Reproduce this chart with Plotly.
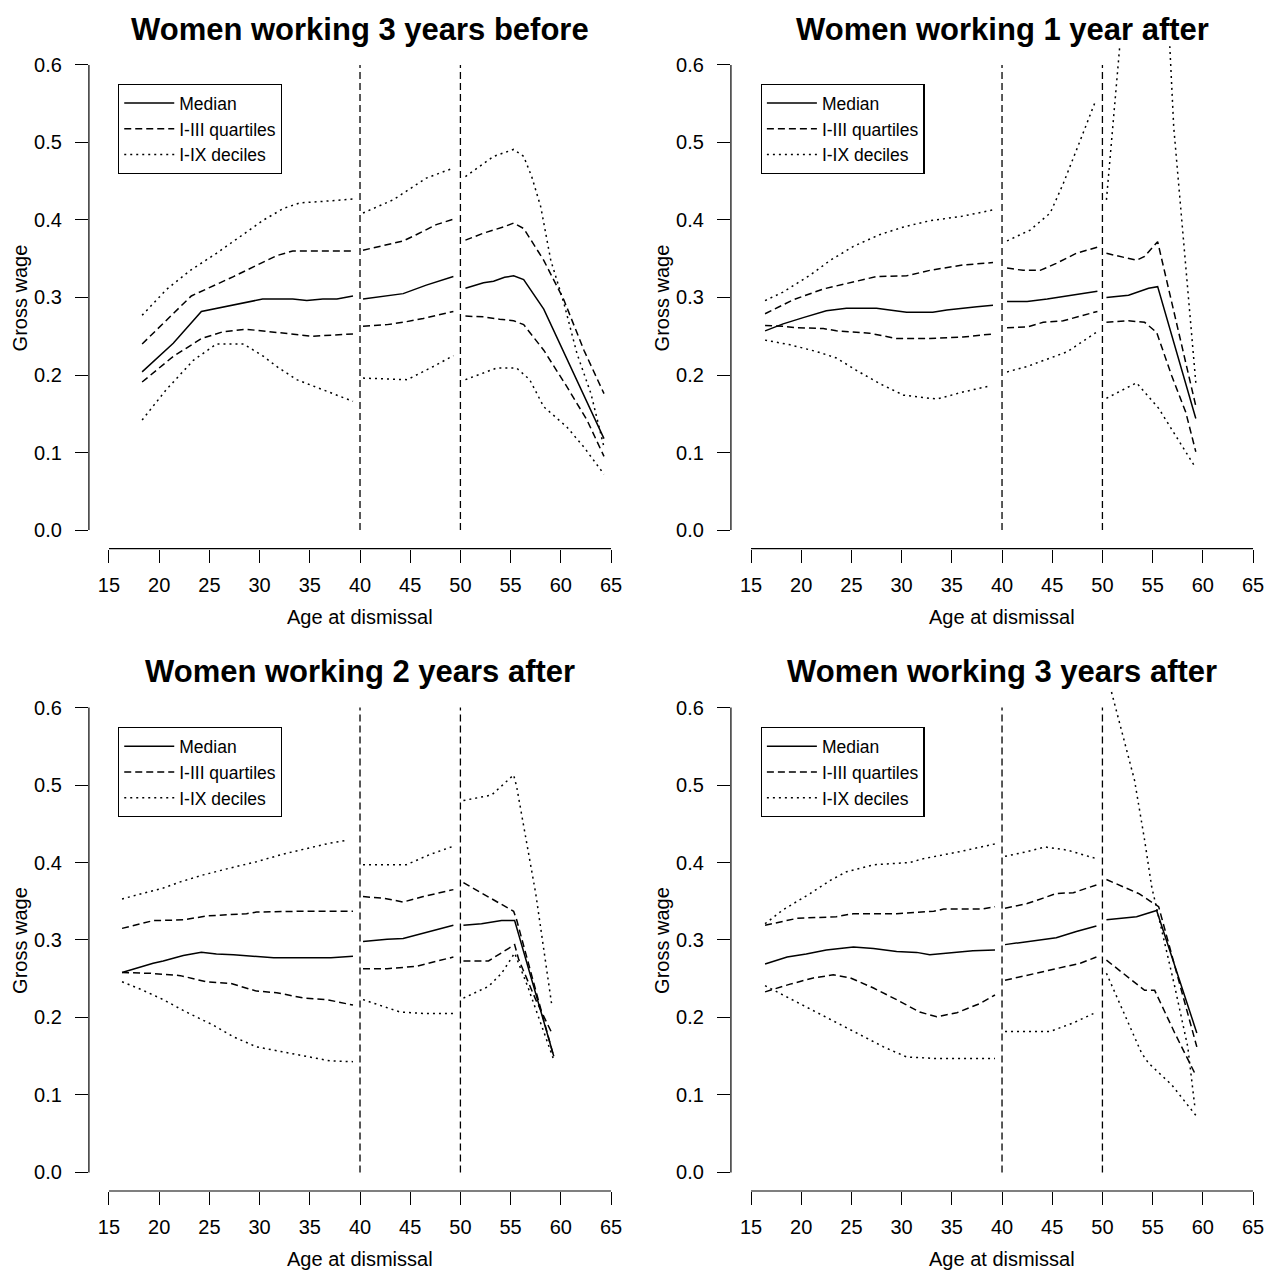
import plotly.graph_objects as go

# ---------------- data ----------------
titles = ["Women working 3 years before", "Women working 1 year after",
          "Women working 2 years after", "Women working 3 years after"]
legend_names = ["Median", "I-III quartiles", "I-IX deciles"]
x_label = "Age at dismissal"
y_label = "Gross wage"
cut_ages = [40, 50]
x_ticks = [15, 20, 25, 30, 35, 40, 45, 50, 55, 60, 65]
y_ticks = [0.0, 0.1, 0.2, 0.3, 0.4, 0.5, 0.6]

# Panel 1: Women working 3 years before
p1_med_age = [18.3, 21.4, 24.2, 26.4, 28.3, 30.3, 33.3, 34.7, 36.3, 37.7, 39.3, None,
              40.3, 44.3, 46.6, 49.3, None,
              50.5, 52.3, 53.3, 54.4, 55.3, 56.3, 58.3, 61.3, 64.3]
p1_med = [0.204, 0.241, 0.282, 0.288, 0.293, 0.298, 0.298, 0.296, 0.298, 0.298, 0.302, None,
          0.298, 0.305, 0.316, 0.327, None,
          0.312, 0.319, 0.321, 0.326, 0.328, 0.323, 0.285, 0.202, 0.118]
p1_q3_age = [18.3, 23.2, 27.4, 30.3, 31.7, 33.3, 39.3, None,
             40.3, 44.3, 45.6, 47.6, 49.3, None,
             50.5, 52.3, 54.3, 55.3, 56.3, 58.3, 60.3, 62.3, 64.3]
p1_q3 = [0.24, 0.302, 0.327, 0.345, 0.354, 0.36, 0.36, None,
         0.361, 0.373, 0.381, 0.394, 0.401, None,
         0.374, 0.383, 0.391, 0.396, 0.389, 0.348, 0.297, 0.232, 0.176]
p1_q1_age = [18.3, 21.4, 24.2, 26.4, 28.7, 30.7, 32.0, 33.7, 35.3, 39.3, None,
             40.3, 42.7, 44.3, 46.3, 49.3, None,
             50.5, 52.3, 53.9, 55.3, 56.3, 58.3, 60.6, 62.6, 64.3]
p1_q1 = [0.191, 0.224, 0.247, 0.256, 0.259, 0.256, 0.254, 0.252, 0.25, 0.253, None,
         0.263, 0.265, 0.268, 0.273, 0.282, None,
         0.276, 0.275, 0.272, 0.27, 0.265, 0.232, 0.185, 0.142, 0.095]
p1_d9_age = [18.3, 20.7, 23.1, 25.7, 28.0, 30.4, 32.4, 34.0, 36.3, 39.3, None,
             40.3, 43.3, 46.6, 49.3, None,
             50.5, 53.3, 55.3, 56.3, 57.1, 58.0, 59.0, 60.3, 61.6, 63.0, 64.3]
p1_d9 = [0.277, 0.31, 0.335, 0.357, 0.378, 0.4, 0.415, 0.422, 0.424, 0.427, None,
         0.409, 0.426, 0.454, 0.467, None,
         0.456, 0.482, 0.491, 0.482, 0.456, 0.417, 0.348, 0.293, 0.228, 0.176, 0.107]
p1_d1_age = [18.3, 20.7, 23.4, 25.7, 28.4, 30.4, 31.7, 33.7, 36.3, 39.3, None,
             40.3, 44.7, 47.3, 49.3, None,
             50.5, 53.6, 55.6, 56.9, 58.3, 60.6, 62.3, 63.8, 64.3]
p1_d1 = [0.142, 0.181, 0.219, 0.24, 0.24, 0.224, 0.211, 0.194, 0.181, 0.166, None,
         0.196, 0.194, 0.211, 0.225, None,
         0.194, 0.209, 0.209, 0.194, 0.159, 0.133, 0.107, 0.08, 0.072]

# Panel 2: Women working 1 year after
p2_med_age = [16.4, 18.2, 20.2, 22.5, 24.5, 27.5, 28.8, 30.5, 33.1, 34.5, 37.5, 39.1, None,
              40.5, 42.5, 44.5, 47.1, 49.5, None,
              50.4, 52.6, 54.6, 55.5, 59.3]
p2_med = [0.257, 0.266, 0.274, 0.283, 0.286, 0.286, 0.284, 0.281, 0.281, 0.284, 0.288, 0.29, None,
          0.295, 0.295, 0.298, 0.303, 0.308, None,
          0.3, 0.303, 0.312, 0.314, 0.144]
p2_q3_age = [16.4, 19.2, 22.2, 24.9, 27.5, 30.5, 32.8, 36.1, 39.1, None,
             40.5, 42.1, 43.8, 45.4, 47.4, 49.5, None,
             50.4, 53.4, 54.2, 55.5, 59.3]
p2_q3 = [0.279, 0.297, 0.311, 0.319, 0.327, 0.328, 0.335, 0.342, 0.345, None,
         0.338, 0.335, 0.335, 0.344, 0.357, 0.365, None,
         0.357, 0.348, 0.353, 0.372, 0.16]
p2_q1_age = [16.4, 18.2, 19.5, 22.2, 23.5, 26.8, 29.5, 32.8, 36.1, 39.1, None,
             40.5, 42.5, 44.1, 46.1, 49.5, None,
             50.4, 52.6, 54.2, 55.4, 56.9, 58.3, 59.3]
p2_q1 = [0.264, 0.263, 0.261, 0.26, 0.257, 0.254, 0.247, 0.247, 0.249, 0.253, None,
         0.261, 0.262, 0.268, 0.27, 0.282, None,
         0.268, 0.27, 0.268, 0.255, 0.199, 0.152, 0.101]
p2_d9_age = [16.4, 18.2, 20.9, 22.9, 25.2, 27.8, 30.2, 32.8, 36.1, 39.1, None,
             40.5, 42.8, 44.8, 46.1, 47.8, 49.3, None,
             50.4, 50.9, 52.5, 55.5, 56.5, 57.1, 58.2, 59.3]
p2_d9 = [0.296, 0.307, 0.329, 0.348, 0.366, 0.381, 0.391, 0.399, 0.405, 0.413, None,
         0.373, 0.387, 0.409, 0.447, 0.503, 0.553, None,
         0.426, 0.507, 0.74, 0.85, 0.68, 0.52, 0.36, 0.19]
p2_d1_age = [16.4, 18.9, 21.6, 23.5, 25.5, 27.8, 30.2, 33.5, 36.1, 38.8, None,
             40.5, 42.5, 46.5, 49.5, None,
             50.4, 53.4, 55.6, 57.3, 59.3]
p2_d1 = [0.245, 0.239, 0.23, 0.222, 0.206, 0.189, 0.174, 0.169, 0.178, 0.186, None,
         0.204, 0.211, 0.23, 0.256, None,
         0.17, 0.19, 0.157, 0.122, 0.08]

# Panel 3: Women working 2 years after
p3_med_age = [16.3, 17.8, 19.4, 20.4, 22.4, 24.2, 25.7, 27.4, 29.4, 31.4, 37.1, 39.3, None,
              40.3, 42.7, 44.3, 46.3, 47.6, 49.3, None,
              50.3, 52.1, 54.1, 55.4, 59.3]
p3_med = [0.258, 0.264, 0.27, 0.273, 0.28, 0.284, 0.282, 0.281, 0.279, 0.277, 0.277, 0.279, None,
          0.298, 0.301, 0.302, 0.309, 0.313, 0.319, None,
          0.319, 0.321, 0.325, 0.325, 0.15]
p3_q3_age = [16.3, 19.4, 22.4, 24.7, 28.7, 29.7, 33.7, 39.3, None,
             40.3, 42.3, 44.3, 46.3, 49.3, None,
             50.3, 54.4, 55.3, 55.6, 59.3]
p3_q3 = [0.315, 0.325, 0.326, 0.331, 0.334, 0.336, 0.337, 0.337, None,
         0.356, 0.354, 0.349, 0.356, 0.365, None,
         0.374, 0.343, 0.337, 0.326, 0.149]
p3_q1_age = [16.3, 19.1, 22.1, 24.7, 27.1, 29.7, 31.7, 34.4, 36.7, 39.3, None,
             40.3, 42.7, 45.6, 49.3, None,
             50.3, 52.8, 55.4, 55.8, 57.5, 59.1]
p3_q1 = [0.258, 0.257, 0.254, 0.246, 0.244, 0.234, 0.232, 0.225, 0.223, 0.216, None,
         0.263, 0.263, 0.266, 0.278, None,
         0.273, 0.273, 0.294, 0.275, 0.223, 0.18]
p3_d9_age = [16.3, 18.4, 20.4, 22.1, 24.4, 27.1, 29.7, 32.4, 34.7, 37.0, 38.8, None,
             40.3, 44.6, 46.9, 49.3, None,
             50.3, 53.1, 55.3, 55.6, 57.5, 59.1]
p3_d9 = [0.353, 0.36, 0.367, 0.375, 0.384, 0.393, 0.401, 0.411, 0.418, 0.425, 0.429, None,
         0.397, 0.397, 0.41, 0.421, None,
         0.48, 0.487, 0.513, 0.498, 0.36, 0.216]
p3_d1_age = [16.3, 18.4, 20.4, 22.7, 25.4, 27.4, 29.7, 32.4, 35.0, 37.0, 39.3, None,
             40.3, 44.0, 46.6, 49.3, None,
             50.3, 52.8, 54.1, 55.4, 56.7, 59.3]
p3_d1 = [0.246, 0.235, 0.223, 0.207, 0.19, 0.175, 0.162, 0.155, 0.149, 0.144, 0.143, None,
         0.223, 0.207, 0.205, 0.205, None,
         0.225, 0.24, 0.257, 0.283, 0.24, 0.145]

# Panel 4: Women working 3 years after
p4_med_age = [16.4, 18.6, 20.5, 22.5, 25.2, 27.2, 29.5, 31.5, 32.8, 34.5, 37.1, 39.3, None,
              40.3, 42.8, 45.4, 47.4, 49.4, None,
              50.4, 53.4, 55.4, 59.4]
p4_med = [0.269, 0.278, 0.282, 0.287, 0.291, 0.289, 0.285, 0.284, 0.281, 0.283, 0.286, 0.287, None,
          0.294, 0.298, 0.303, 0.311, 0.318, None,
          0.326, 0.33, 0.338, 0.18]
p4_q3_age = [16.4, 19.6, 23.5, 25.2, 29.5, 33.2, 34.2, 38.1, 39.3, None,
             40.3, 42.5, 44.1, 45.4, 47.1, 49.4, None,
             50.4, 53.6, 55.6, 59.4]
p4_q3 = [0.319, 0.328, 0.33, 0.334, 0.334, 0.337, 0.34, 0.34, 0.343, None,
         0.341, 0.347, 0.354, 0.36, 0.361, 0.371, None,
         0.378, 0.36, 0.343, 0.162]
p4_q1_age = [16.4, 18.9, 21.2, 23.2, 24.9, 27.2, 29.5, 31.8, 33.5, 35.5, 37.8, 39.3, None,
             40.3, 42.8, 45.4, 47.8, 49.4, None,
             50.4, 53.2, 54.2, 55.2, 57.2, 59.2]
p4_q1 = [0.233, 0.243, 0.251, 0.255, 0.251, 0.238, 0.223, 0.207, 0.201, 0.206, 0.218, 0.229, None,
         0.248, 0.255, 0.263, 0.27, 0.278, None,
         0.274, 0.246, 0.235, 0.235, 0.18, 0.128]
p4_d9_age = [16.4, 18.2, 20.9, 22.9, 24.5, 27.2, 30.8, 32.2, 35.8, 39.3, None,
             40.3, 42.5, 44.3, 46.5, 49.4, None,
             50.3, 51.9, 53.2, 54.2, 54.9, 57.2, 58.5, 59.2]
p4_d9 = [0.321, 0.339, 0.36, 0.377, 0.388, 0.397, 0.4, 0.405, 0.414, 0.424, None,
         0.408, 0.414, 0.42, 0.416, 0.405, None,
         0.65, 0.571, 0.506, 0.429, 0.369, 0.24, 0.162, 0.085]
p4_d1_age = [16.4, 18.2, 20.9, 23.5, 26.2, 28.2, 30.5, 33.5, 39.3, None,
             40.3, 44.8, 47.1, 49.1, None,
             50.4, 52.2, 53.9, 54.6, 56.9, 59.4]
p4_d1 = [0.241, 0.229, 0.21, 0.193, 0.175, 0.162, 0.149, 0.147, 0.147, None,
         0.182, 0.182, 0.193, 0.205, None,
         0.257, 0.205, 0.154, 0.141, 0.113, 0.072]

# ---------------- figure ----------------
FONT = "Liberation Sans, Arial, Helvetica, sans-serif"
W, H = 1283, 1273
LW = 1.5
DASH = "7px,4px"
DOT = "2px,4px"

panels = [
    [(p1_med_age, p1_med, "solid", 0), (p1_q3_age, p1_q3, DASH, 1), (p1_q1_age, p1_q1, DASH, None),
     (p1_d9_age, p1_d9, DOT, 2), (p1_d1_age, p1_d1, DOT, None)],
    [(p2_med_age, p2_med, "solid", 0), (p2_q3_age, p2_q3, DASH, 1), (p2_q1_age, p2_q1, DASH, None),
     (p2_d9_age, p2_d9, DOT, 2), (p2_d1_age, p2_d1, DOT, None)],
    [(p3_med_age, p3_med, "solid", 0), (p3_q3_age, p3_q3, DASH, 1), (p3_q1_age, p3_q1, DASH, None),
     (p3_d9_age, p3_d9, DOT, 2), (p3_d1_age, p3_d1, DOT, None)],
    [(p4_med_age, p4_med, "solid", 0), (p4_q3_age, p4_q3, DASH, 1), (p4_q1_age, p4_q1, DASH, None),
     (p4_d9_age, p4_d9, DOT, 2), (p4_d1_age, p4_d1, DOT, None)],
]

x_domains = [[0.0693, 0.4919], [0.5697, 0.9923], [0.0693, 0.4919], [0.5697, 0.9923]]
y_domains = [[0.5690, 0.9636], [0.5690, 0.9636], [0.0644, 0.4588], [0.0644, 0.4588]]
legend_pos = [(0.0920, 0.9340), (0.5929, 0.9340), (0.0920, 0.4287), (0.5929, 0.4287)]

fig = go.Figure()
layout = dict(width=W, height=H, margin=dict(l=0, r=0, t=0, b=0),
              paper_bgcolor="white", plot_bgcolor="white",
              font=dict(family=FONT, color="black", size=20),
              annotations=[], shapes=[])

for i, series in enumerate(panels):
    n = i + 1
    sfx = "" if n == 1 else str(n)
    xa, ya = "x" + sfx, "y" + sfx
    leg = "legend" + sfx

    # reference vertical lines at the age cut-offs
    vx, vy = [], []
    for c in cut_ages:
        vx += [c, c, None]
        vy += [y_ticks[0], y_ticks[-1], None]
    fig.add_trace(go.Scatter(x=vx, y=vy, mode="lines", xaxis=xa, yaxis=ya,
                             line=dict(color="black", width=1.3, dash=DASH),
                             showlegend=False, hoverinfo="skip"))

    for ages, vals, dash, leg_idx in series:
        fig.add_trace(go.Scatter(
            x=ages, y=vals, mode="lines", xaxis=xa, yaxis=ya,
            line=dict(color="black", width=LW, dash=dash),
            connectgaps=False,
            name=legend_names[leg_idx] if leg_idx is not None else "",
            showlegend=leg_idx is not None, legend=leg))

    layout["xaxis" + sfx] = dict(
        domain=x_domains[i], anchor=ya, range=[13, 67],
        tickmode="array", tickvals=x_ticks, ticktext=[str(t) for t in x_ticks],
        ticks="outside", ticklen=13, tickwidth=1.2, tickcolor="black",
        showgrid=False, zeroline=False, showline=False,
        tickfont=dict(family=FONT, size=20, color="black"), ticklabelstandoff=5)
    layout["yaxis" + sfx] = dict(
        domain=y_domains[i], anchor=xa, range=[-0.024, 0.624],
        tickmode="array", tickvals=y_ticks, ticktext=["%.1f" % t for t in y_ticks],
        ticks="outside", ticklen=13, tickwidth=1.2, tickcolor="black",
        showgrid=False, zeroline=False, showline=False,
        tickfont=dict(family=FONT, size=20, color="black"), ticklabelstandoff=9)

    # R-style axis spines spanning only the tick range
    layout["shapes"].append(dict(type="line", xref=xa, yref=ya + " domain",
                                 x0=x_ticks[0], x1=x_ticks[-1], y0=0, y1=0,
                                 line=dict(color="black", width=1.2)))
    layout["shapes"].append(dict(type="line", xref=xa + " domain", yref=ya,
                                 x0=0, x1=0, y0=y_ticks[0], y1=y_ticks[-1],
                                 line=dict(color="black", width=1.2)))

    # titles and axis labels
    layout["annotations"].append(dict(
        text="<b>" + titles[i] + "</b>", xref=xa + " domain", yref=ya + " domain",
        x=0.5, y=1, xanchor="center", yanchor="middle", yshift=17, showarrow=False,
        font=dict(family=FONT, size=31, color="black")))
    layout["annotations"].append(dict(
        text=x_label, xref=xa + " domain", yref=ya + " domain",
        x=0.5, y=0, xanchor="center", yanchor="middle", yshift=-68, showarrow=False,
        font=dict(family=FONT, size=20, color="black")))
    layout["annotations"].append(dict(
        text=y_label, xref=xa + " domain", yref=ya + " domain",
        x=0, y=0.5, xanchor="center", yanchor="middle", xshift=-69, textangle=-90,
        showarrow=False, font=dict(family=FONT, size=20, color="black")))

    layout[leg] = dict(x=legend_pos[i][0], y=legend_pos[i][1], xanchor="left", yanchor="top",
                       bordercolor="black", borderwidth=1.2, bgcolor="white",
                       font=dict(family=FONT, size=17.5, color="black"),
                       itemwidth=50, tracegroupgap=0, traceorder="normal")

fig.update_layout(**layout)
fig.write_html("out.html", config={"displayModeBar": False},
               post_script="document.body.style.margin='0';")
